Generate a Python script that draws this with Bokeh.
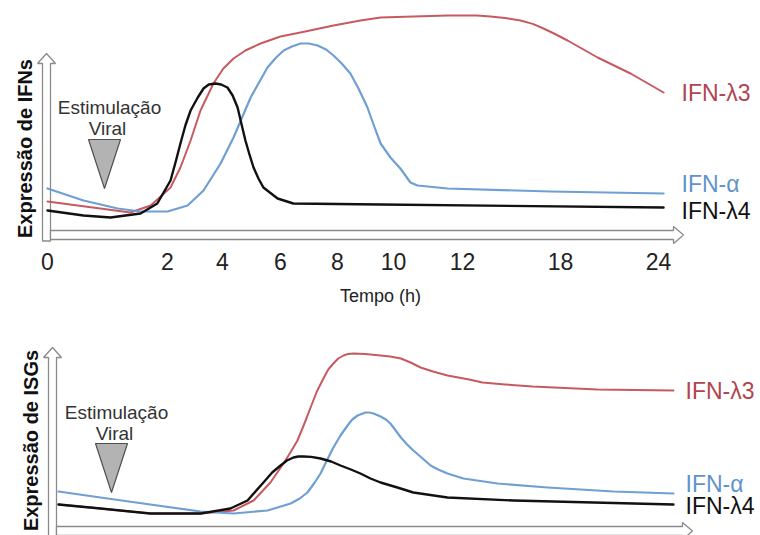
import numpy as np
from bokeh.plotting import figure
from bokeh.layouts import column
from bokeh.models import Range1d, FixedTicker
from bokeh.core.properties import value
from bokeh.embed import file_html
from bokeh.resources import INLINE

# ---------------- data ----------------
tick_hours = [0, 2, 4, 6, 8, 10, 12, 18, 24]
tick_labels = ["0", "2", "4", "6", "8", "10", "12", "18", "24"]

# Top panel: IFN expression (arbitrary units) vs time (h)
ifn_l3_h = [0, 0.88, 1.38, 1.72, 2.11, 2.47, 2.84, 3.2, 3.67, 4.03, 4.38, 4.79, 5.31, 6.0, 6.7, 7.86, 8.82, 9.54,
            10.58, 11.57, 12.9, 13.71, 14.6, 15.55, 16.3, 16.96, 17.6, 18.43, 19.3, 20.27, 22.29, 24.31]
ifn_l3_y = [17, 13.5, 11.5, 15, 24, 34, 47.5, 62.5, 76, 83.5, 88.5, 92.5, 96, 99.5, 101.5, 105, 107.5, 109,
            109.5, 110, 110, 109.5, 108.8, 107.5, 105.8, 103.5, 101, 97.5, 93.5, 89, 81, 71.5]

ifn_a_h = [0, 0.6, 1.17, 1.55, 2.0, 2.73, 3.31, 3.93, 4.38, 4.97, 5.55, 5.85, 6.11, 6.4, 6.7, 7.0, 7.3, 7.6, 7.86,
           8.15, 8.46, 8.75, 9.07, 9.3, 9.54, 9.89, 10.2, 10.49, 10.7, 11.57, 17.39, 24.31]
ifn_a_y = [23.5, 17.5, 13.5, 12, 12, 15, 22.5, 36, 49, 69, 84, 89, 92.5, 94.5, 96, 96, 95, 93, 90,
           86, 81, 73.5, 64, 55, 46, 39, 33.5, 26.5, 25, 23.5, 22, 21]

ifn_l4_h = [0, 0.6, 1.05, 1.55, 1.83, 2.11, 2.3, 2.47, 2.65, 2.84, 3.1, 3.31, 3.5, 3.75, 3.95, 4.17, 4.35, 4.52,
            4.65, 4.79, 4.93, 5.07, 5.24, 5.41, 5.9, 6.45, 9.54, 24.31]
ifn_l4_y = [12.5, 10, 9, 11, 16, 27.5, 37, 46, 55, 62.5, 69, 73.5, 75.5, 76, 75.5, 74, 70, 64,
            56, 47.5, 40.5, 34, 28.5, 24, 18.5, 16, 15.5, 14]

# Bottom panel: ISG expression (arbitrary units) vs time (h)
isg_l3_h = [0.1, 0.8, 1.63, 3.02, 4.21, 4.9, 5.48, 5.93, 6.15, 6.42, 6.65, 6.88, 7.1, 7.33, 7.5, 7.68, 7.85, 8.04,
            8.2, 8.39, 8.8, 9.36, 9.7, 10.07, 10.35, 10.64, 11.0, 11.42, 12.1, 12.92, 14.3, 15.98, 19.96, 24.61]
isg_l3_y = [13, 11, 8.5, 8.5, 10, 15, 24, 33.5, 38.5, 45, 53, 61.5, 69.5, 76, 80.5, 83.5, 86, 87.5,
            88.3, 88.5, 88.3, 87.5, 87, 86, 84, 81.5, 79.5, 77.5, 75.5, 74, 73, 72, 70.5, 70]

isg_a_h = [0.1, 0.8, 1.63, 3.02, 4.21, 5.38, 6.18, 6.5, 6.77, 7.0, 7.23, 7.45, 7.68, 7.93, 8.18, 8.35, 8.54, 8.82,
           8.95, 9.11, 9.36, 9.55, 9.71, 9.9, 10.07, 10.25, 10.43, 10.7, 10.93, 11.15, 11.42, 11.88, 13.84, 16.9,
           20.94, 24.61]
isg_a_y = [19.5, 16.5, 13, 9.5, 8.5, 10, 13.5, 16, 19, 23.5, 28.5, 35, 41.5, 47.5, 52.5, 55.5, 57.5, 59,
           59, 58.5, 57, 55.5, 53.5, 50, 46.5, 43, 40, 36, 32.5, 30.5, 28.5, 26, 23.5, 21.5,
           19.5, 18.5]

isg_l4_h = [0.1, 0.8, 1.63, 3.02, 4.1, 4.69, 5.24, 5.54, 5.83, 6.05, 6.28, 6.45, 6.63, 6.9, 7.23, 7.6, 7.93, 8.3,
            8.64, 9.0, 9.36, 9.96, 10.43, 11.42, 14.82, 24.61]
isg_l4_y = [13, 11, 8.5, 8.5, 11, 15, 24, 29, 32.5, 35, 36.5, 37, 37, 36.8, 36, 34.5, 32.5, 30.5,
            28.5, 26, 24, 21.5, 19, 16.5, 15, 13]

series_names = ["IFN-\u03bb3", "IFN-\u03b1", "IFN-\u03bb4"]
stim_hour = 0.95

# ---------------- style ----------------
FONT = value("Liberation Sans")
RED, BLUE, BLACK = "#c75a60", "#6f9fd3", "#111111"
RED_T, BLUE_T = "#b0454f", "#5f93cc"
ARROW = "#8a8a8a"
# axis-position of each tick (layout of the uneven time axis)
TICK_POS = [0, 120, 175, 233, 290, 346, 415, 513, 611]


def to_pos(h):
    h = np.asarray(h, float)
    out = np.interp(h, tick_hours, TICK_POS)
    slope = (TICK_POS[-1] - TICK_POS[-2]) / (tick_hours[-1] - tick_hours[-2])
    return np.where(h > tick_hours[-1], TICK_POS[-1] + (h - tick_hours[-1]) * slope, out)


def base_fig(h, xr, yr, with_axis):
    p = figure(width=760, height=h, x_range=Range1d(*xr), y_range=Range1d(*yr),
               output_backend="svg", toolbar_location=None,
               x_axis_location="below" if with_axis else None, y_axis_location=None,
               min_border_left=0, min_border_right=0, min_border_top=0,
               min_border_bottom=75 if with_axis else 0)
    p.grid.visible = False
    p.outline_line_color = None
    p.background_fill_color = "white"
    p.border_fill_color = "white"
    return p


def arrows(p, x0, x1, y0, y1):
    # hollow double-line arrows for the y axis (at x0) and the x axis (at y0)
    p.patch([x0 - 4, x0 - 4, x0 - 9, x0, x0 + 9, x0 + 4, x0 + 4],
            [y0 - 3, y1 - 5, y1 - 5, y1, y1 - 5, y1 - 5, y0 - 3],
            fill_color="white", line_color=ARROW, line_width=1.3)
    p.patch([x0 + 4, x1 - 10, x1 - 10, x1, x1 - 10, x1 - 10, x0 + 4],
            [y0 + 2.25, y0 + 2.25, y0 + 4.25, y0, y0 - 4.25, y0 - 2.25, y0 - 2.25],
            fill_color="white", line_color=ARROW, line_width=1.3)


def stim(p, xc, ytop, ybot, ytext):
    p.patch([xc - 16, xc + 16, xc], [ytop, ytop, ybot],
            fill_color="#b3b3b3", line_color="#505050", line_width=1.2)
    p.text(x=[xc + 5, xc + 3], y=[ytext + 10.5, ytext], text=["Estimula\u00e7\u00e3o", "Viral"],
           text_font=FONT, text_font_size="19px", text_color="#333333",
           text_align="center", text_baseline="middle")


def curves(p, hs, ys, colors, widths):
    for h, y, c, w in zip(hs, ys, colors, widths):
        p.line(to_pos(h), y, line_color=c, line_width=w, line_join="round", line_cap="round")


def labels(p, x, ys, colors):
    p.text(x=[x] * 3, y=ys, text=series_names, text_font=FONT, text_font_size="23px",
           text_color=colors, text_align="left", text_baseline="middle")


# ---------------- top panel ----------------
top = base_fig(320, (-47, 713), (-5, 117.5), True)
arrows(top, -1, 636, 0.25, 91)
stim(top, to_pos(stim_hour)[()], 48, 23.5, 53.5)
curves(top, [ifn_l3_h, ifn_a_h, ifn_l4_h], [ifn_l3_y, ifn_a_y, ifn_l4_y],
       [RED, BLUE, BLACK], [2, 2.2, 2.4])
labels(top, 634, [71.5, 26, 12.5], [RED_T, BLUE_T, "#111111"])
top.text(x=[-23], y=[43.5], text=["Express\u00e3o de IFNs"], angle=np.pi / 2,
         text_font=FONT, text_font_size="20px", text_font_style="bold",
         text_color="#111111", text_align="center", text_baseline="middle")

ax = top.xaxis[0]
ax.ticker = FixedTicker(ticks=TICK_POS)
ax.major_label_overrides = {t: l for t, l in zip(TICK_POS, tick_labels)}
ax.axis_line_color = None
ax.major_tick_line_color = None
ax.minor_tick_line_color = None
ax.major_tick_out = 0
ax.major_label_standoff = 7
ax.major_label_text_font = "Liberation Sans"
ax.major_label_text_font_size = "23px"
ax.major_label_text_color = "#222222"
ax.axis_label = "Tempo (h)"
ax.axis_label_standoff = 13
ax.axis_label_text_font = "Liberation Sans"
ax.axis_label_text_font_size = "18px"
ax.axis_label_text_font_style = "normal"
ax.axis_label_text_color = "#222222"

# ---------------- bottom panel ----------------
bot = base_fig(215, (-52, 708), (-2.5, 105), False)
arrows(bot, 0, 640, -0.25, 91.5)
stim(bot, to_pos(stim_hour)[()] + 2, 43.5, 19, 48.5)
curves(bot, [isg_l3_h, isg_a_h, isg_l4_h], [isg_l3_y, isg_a_y, isg_l4_y],
       [RED, BLUE, BLACK], [2, 2.2, 2.4])
labels(bot, 633, [70, 23.5, 12.5], [RED_T, BLUE_T, "#111111"])
bot.text(x=[-22], y=[45], text=["Express\u00e3o de ISGs"], angle=np.pi / 2,
         text_font=FONT, text_font_size="20px", text_font_style="bold",
         text_color="#111111", text_align="center", text_baseline="middle")

layout = column(top, bot, spacing=0)
open("out.html", "w").write(file_html(layout, INLINE))
